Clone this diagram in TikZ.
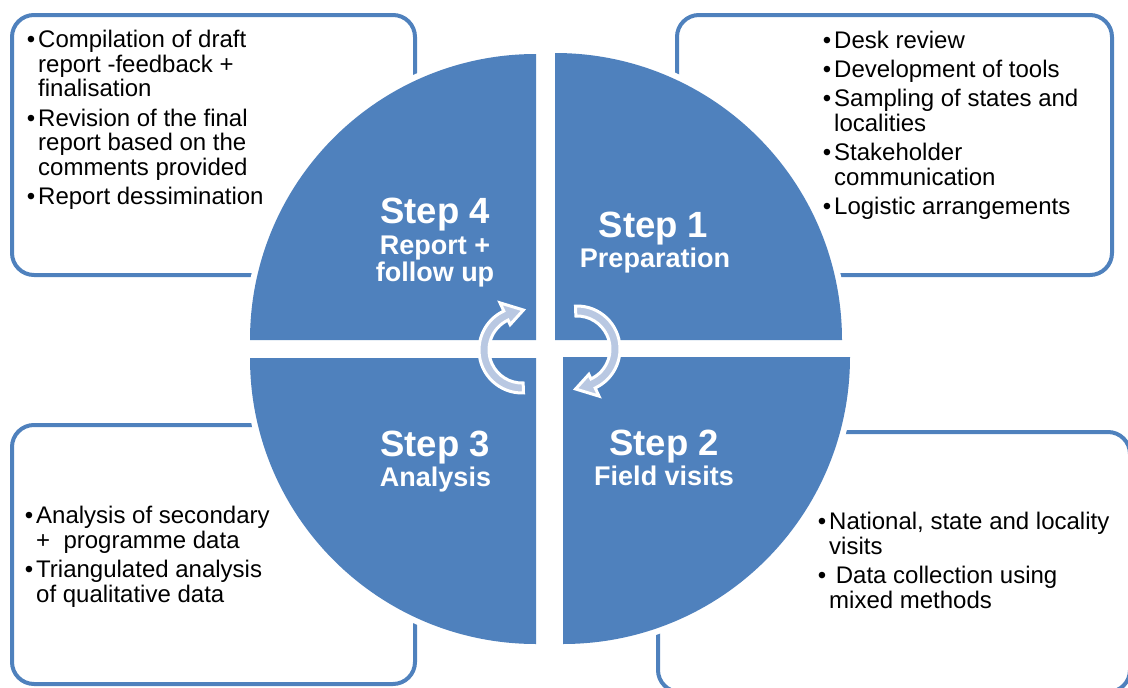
\documentclass[tikz,border=0pt]{standalone}
\usepackage{fontspec}
\setmainfont{Liberation Sans}
\definecolor{stepblue}{RGB}{79,129,189}
\definecolor{arrowgrey}{RGB}{185,200,226}
\newcommand{\bul}{\makebox[8.4pt][r]{\textbullet\hspace{3pt}}}

\begin{document}
\begin{tikzpicture}[x=1pt, y=-1pt,
  box/.style={draw=stepblue, line width=4pt, rounded corners=22pt},
  halo/.style={draw=white, fill=white, line width=12pt},
  quarter/.style={fill=stepblue},
  turn/.style={fill=arrowgrey, draw=white, line width=3pt},
  bullets/.style={anchor=north west, inner sep=0pt, font=\fontsize{24}{24.5}\selectfont},
  steptitle/.style={anchor=base, inner sep=0pt, text=white, font=\bfseries\fontsize{36.5}{36.5}\selectfont},
  stepsub/.style={anchor=base, inner sep=0pt, text=white, font=\bfseries\fontsize{27}{27}\selectfont}]

  \clip (0,0) rectangle (1128,688);

  % text boxes behind the circle
  \draw[box] (12,15) rectangle (415,275);
  \draw[box] (677,15) rectangle (1112,275);
  \draw[box] (12,425) rectangle (415,684);
  \draw[box] (658,432) rectangle (1130,692);

  % the four quarters
  \foreach \cx/\cy/\a/\r in {536/340/180/286, 555/340/270/287, 536/358/90/286, 563/357/0/287} {
    \filldraw[halo] (\cx,\cy) -- +(\a:\r) arc[start angle=\a, end angle=\a+90, radius=\r] -- cycle;
    \fill[quarter] (\cx,\cy) -- +(\a:\r) arc[start angle=\a, end angle=\a+90, radius=\r] -- cycle;
  }

  % cycle arrows in the middle
  \begin{scope}[shift={(522,350)}]
    \filldraw[turn] (88:43) arc[start angle=88, end angle=245, radius=43] -- (245:52) -- (272:40)
      -- (245:28) -- (245:33) arc[start angle=245, end angle=88, radius=33] -- cycle;
  \end{scope}
  \begin{scope}[shift={(577,349)}, rotate=180]
    \filldraw[turn] (88:43) arc[start angle=88, end angle=245, radius=43] -- (245:52) -- (272:40)
      -- (245:28) -- (245:33) arc[start angle=245, end angle=88, radius=33] -- cycle;
  \end{scope}

  % step titles
  \node[steptitle] (s4) at (435,223) {Step 4};
  \node[stepsub] (s4a) at (435,254) {Report +};
  \node[stepsub] (s4b) at (435,281) {follow up};
  \node[steptitle] (s1) at (653.5,237) {Step 1};
  \node[stepsub] (s1a) at (655,267) {Preparation};
  \node[steptitle] (s3) at (435,456) {Step 3};
  \node[stepsub] (s3a) at (435.5,486) {Analysis};
  \node[steptitle] (s2) at (664,455) {Step 2};
  \node[stepsub] (s2a) at (664,485) {Field visits};

  % bullet lists
  \node[bullets] (t4) at (29.6,29.9) {\begin{tabular}{@{}l@{}l@{}}
    \bul & Compilation of draft\\
    & report -feedback +\\
    & finalisation\\[4.5pt]
    \bul & Revision of the final\\
    & report based on the\\
    & comments provided\\[4.5pt]
    \bul & Report dessimination
  \end{tabular}};
  \node[bullets] (t1) at (825.6,30.9) {\begin{tabular}{@{}l@{}l@{}}
    \bul & Desk review\\[4.5pt]
    \bul & Development of tools\\[4.5pt]
    \bul & Sampling of states and\\
    & localities\\[4.5pt]
    \bul & Stakeholder\\
    & communication\\[4.5pt]
    \bul & Logistic arrangements
  \end{tabular}};
  \node[bullets] (t3) at (27.6,505.9) {\begin{tabular}{@{}l@{}l@{}}
    \bul & Analysis of secondary\\
    & +~~programme data\\[4.5pt]
    \bul & Triangulated analysis\\
    & of qualitative data
  \end{tabular}};
  \node[bullets] (t2) at (820.6,511.9) {\begin{tabular}{@{}l@{}l@{}}
    \bul & National, state and locality\\
    & visits\\[4.5pt]
    \bul & ~Data collection using\\
    & mixed methods
  \end{tabular}};
\end{tikzpicture}
\end{document}
